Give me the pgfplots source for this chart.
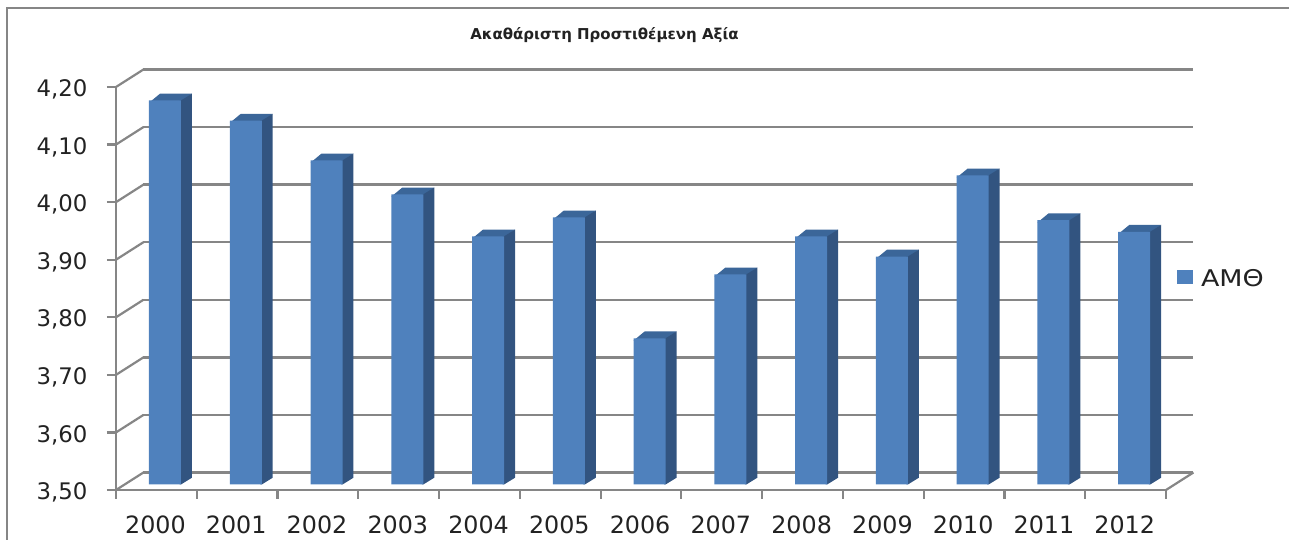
\documentclass[border=0pt]{standalone}
\usepackage{pgfplots}
\usepackage{pgfplotstable}
\usepackage{fontspec}
\setmainfont{DejaVu Sans}
\pgfplotsset{compat=1.18}
\definecolor{barfront}{HTML}{4F81BD}
\definecolor{barside}{HTML}{325480}
\definecolor{bartop}{HTML}{3B6699}
\definecolor{axisgray}{HTML}{868686}
\definecolor{labelc}{HTML}{222222}
\pgfplotstableread{
x v
0 4.167
1 4.132
2 4.063
3 4.004
4 3.931
5 3.964
6 3.754
7 3.865
8 3.931
9 3.896
10 4.037
11 3.959
12 3.939
}\barvals
\begin{document}
\begin{tikzpicture}
\useasboundingbox (-116pt,-50pt) rectangle (1173pt,490pt);
\clip (-116pt,-50pt) rectangle (1173pt,490pt);
\begin{axis}[
  at={(0pt,0pt)}, anchor=south west,
  scale only axis, width=1050pt, height=403pt,
  xmin=-0.5, xmax=12.5, ymin=3.5, ymax=4.2,
  clip=false,
  axis lines=left,
  axis line style={draw=axisgray, line width=2.4pt, -},
  xtick={0,...,12},
  xticklabels={2000,2001,2002,2003,2004,2005,2006,2007,2008,2009,2010,2011,2012},
  minor xtick={-0.5,0.5,...,12.5},
  ytick={3.5,3.6,3.7,3.8,3.9,4.0,4.1,4.2},
  tick align=outside,
  major x tick style={draw=none},
  major tick length=0pt,
  minor tick length=9pt,
  every minor tick/.style={draw=axisgray, line width=2.2pt},
  ytick style={draw=none},
  tick label style={text=labelc},
  yticklabel style={font=\fontsize{22.8}{24}\selectfont, xshift=-25pt, yshift=-2.5pt, /pgf/number format/.cd, use comma, fixed, fixed zerofill, precision=2, assume math mode=true},
  xticklabel style={font=\fontsize{23.8}{25}\selectfont, yshift=-22pt, xshift=-0.9pt},
  title={Ακαθάριστη Προστιθέμενη Αξία},
  title style={at={(0.4652,1)}, anchor=center, yshift=46pt, font=\fontsize{15}{17}\selectfont\bfseries, text=labelc},
  legend style={at={(1.0105,0.524)}, anchor=west, draw=none, fill=none, inner sep=0pt, outer sep=0pt,
    font=\fontsize{23}{25}\selectfont, text=labelc,
    legend cell align=left},
  legend image code/.code={\fill[barfront] (0pt,-10.5pt) rectangle (16pt,3.5pt);},
]
% y axis ticks to the left
\pgfplotsinvokeforeach{3.5,3.6,3.7,3.8,3.9,4.0,4.1,4.2}{
  \addplot[draw=axisgray, line width=2.2pt, forget plot, xshift=-9pt] coordinates {(-0.5,#1) (-0.3886,#1)};
  % wall diagonal
  \addplot[draw=axisgray, line width=2.2pt, forget plot] coordinates {(-0.5,#1) (-0.16,#1+0.0304)};
  % gridline on the back wall
  \addplot[draw=axisgray, line width=2.4pt, forget plot, xshift=27.5pt, yshift=17.5pt] coordinates {(-0.5,#1) (12.5,#1)};
}
% floor right edge
\addplot[draw=axisgray, line width=2.2pt, forget plot] coordinates {(12.5,3.5) (12.84,3.5304)};
% 3-D faces of the bars
\pgfplotsinvokeforeach{0,...,12}{
  \pgfplotstablegetelem{#1}{v}\of\barvals
  \let\val\pgfplotsretval
  \pgfmathsetmacro\xl{#1-0.198}
  \pgfmathsetmacro\xr{#1+0.198}
  \pgfmathsetmacro\xin{#1+0.18}
  \pgfmathsetmacro\xlb{#1-0.198+0.136}
  \pgfmathsetmacro\xrb{#1+0.198+0.136}
  \pgfmathsetmacro\vb{\val+0.0118}
  \pgfmathsetmacro\vin{\val-0.004}
  \edef\doplot{\noexpand\addplot[fill=bartop, draw=none, forget plot, xshift=8.6pt, yshift=5.5pt]
     coordinates {(\xl,\vin) (\xr,\vin) (\xrb,\vb) (\xlb,\vb)} --cycle;
     \noexpand\addplot[fill=barside, draw=none, forget plot, xshift=8.6pt, yshift=5.5pt]
     coordinates {(\xin,3.5) (\xin,\val) (\xr,\val) (\xrb,\vb) (\xrb,3.5118) (\xr,3.5)} --cycle;}
  \doplot
}
\addplot[ybar, bar width=32pt, bar shift=0pt, fill=barfront, draw=none, xshift=8.6pt, yshift=5.5pt] table[x=x,y=v] {\barvals};
\addlegendentry{\hspace{6pt}\scalebox{1.17}[1]{ΑΜΘ}}
\end{axis}
% outer chart frame
\draw[axisgray, line width=2.6pt] (-109pt,-60pt) -- (-109pt,482pt) -- (1200pt,482pt);
\end{tikzpicture}
\end{document}
